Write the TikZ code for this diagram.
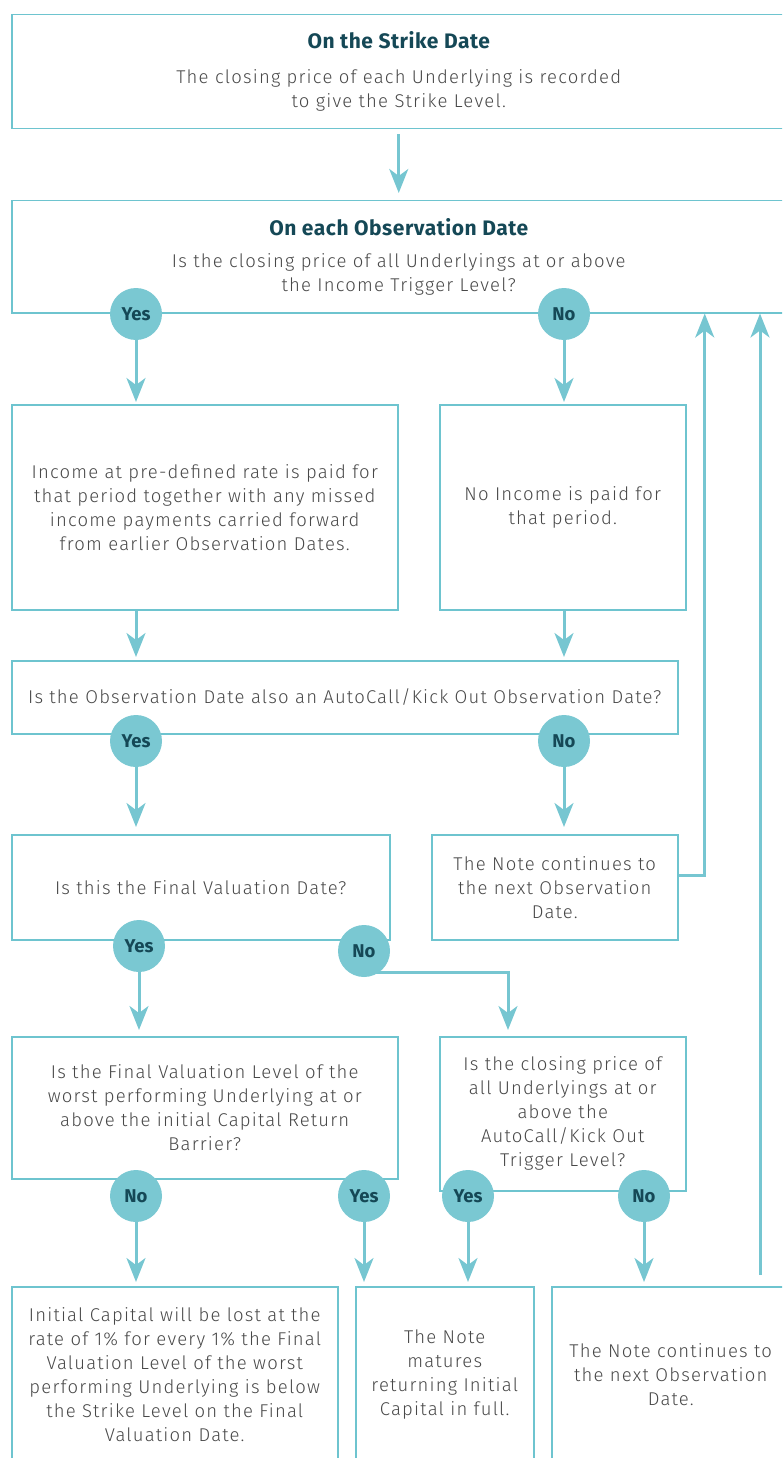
\documentclass[tikz,border=0pt]{standalone}
\usepackage{fontspec}
\setmainfont{Fira Sans}[UprightFont=* Light, BoldFont=* Bold]
\usetikzlibrary{arrows.meta}
\definecolor{edge}{RGB}{110,196,207}
\definecolor{circfill}{RGB}{122,200,210}
\definecolor{linec}{RGB}{118,198,209}
\definecolor{dark}{RGB}{21,72,86}
\definecolor{txt}{RGB}{72,72,72}
\newcommand{\bodyfont}{\fontsize{18.5}{24}\selectfont\addfontfeatures{LetterSpace=6.5}}
\newcommand{\ttlfont}{\color{dark}\bfseries\fontsize{21}{24}\selectfont\addfontfeatures{LetterSpace=2.5}}
\begin{document}
\begin{tikzpicture}[x=1pt,y=-1pt,
  box/.style={draw=edge, line width=1.5pt, rectangle, anchor=north west, align=center, inner sep=0pt,
    font=\bodyfont, text=txt},
  circ/.style={circle, fill=circfill, minimum size=52pt, inner sep=0pt,
    font=\fontsize{18.5}{19}\selectfont\bfseries, text=dark},
  arr/.style={draw=linec, line width=3pt, -{Stealth[length=24pt,width=19pt,inset=7pt]}}]
\clip (0,0) rectangle (782,1458);
% boxes
\node[box, minimum width=774pt, minimum height=114pt] (b1) at (11,14)
  {{\ttlfont On the Strike Date}\\[11pt]
   The closing price of each Underlying is recorded\\ to give the Strike Level.};
\node[box, minimum width=774pt, minimum height=112pt] (b2) at (11,200)
  {{\ttlfont On each Observation Date}\\[8pt]
   Is the closing price of all Underlyings at or above\\ the Income Trigger Level?};
\node[box, minimum width=386pt, minimum height=205pt] (b3) at (11,404)
  {Income at pre-defined rate is paid for\\ that period together with any missed\\ income payments carried forward\\ from earlier Observation Dates.};
\node[box, minimum width=246pt, minimum height=205pt] (b4) at (439,404)
  {No Income is paid for\\ that period.};
\node[box, minimum width=666pt, minimum height=73pt] (b5) at (11,660)
  {Is the Observation Date also an AutoCall/Kick Out Observation Date?};
\node[box, minimum width=378pt, minimum height=105pt] (b6) at (11,834)
  {Is this the Final Valuation Date?};
\node[box, minimum width=246pt, minimum height=105pt] (b7) at (431,834)
  {The Note continues to\\ the next Observation\\ Date.};
\node[box, minimum width=386pt, minimum height=142pt] (b8) at (11,1036)
  {Is the Final Valuation Level of the\\ worst performing Underlying at or\\ above the initial Capital Return\\ Barrier?};
\node[box, minimum width=246pt, minimum height=154pt] (b9) at (439,1036)
  {Is the closing price of\\ all Underlyings at or\\ above the\\ AutoCall/Kick Out\\ Trigger Level?};
\node[box, minimum width=326pt, minimum height=176pt] (b10) at (11,1286)
  {Initial Capital will be lost at the\\ rate of 1\% for every 1\% the Final\\ Valuation Level of the worst\\ performing Underlying is below\\ the Strike Level on the Final\\ Valuation Date.};
\node[box, minimum width=178pt, minimum height=176pt] (b11) at (355,1286)
  {The Note\\ matures\\ returning Initial\\ Capital in full.};
\node[box, minimum width=238pt, minimum height=176pt] (b12) at (551,1286)
  {The Note continues to\\ the next Observation\\ Date.};
\coordinate (c1) at (760,1275);
\coordinate (n3o) at (364,972);
% connectors drawn before circles
\draw[arr] ([yshift=-5pt]b1.south) -- ([yshift=7pt]b2.north);
\draw[arr] ([yshift=12pt]b7.east) -| ([xshift=306pt]b2.south);
\draw[arr] (c1) -- (c1 |- b2.south);
\draw[arr] (n3o) -| ([xshift=69pt,yshift=6pt]b9.north west);
% circles
\node[circ] (y1) at (136,314) {Yes};
\node[circ] (n1) at (564,314) {No};
\node[circ] (y2) at (136,741) {Yes};
\node[circ] (n2) at (564,741) {No};
\node[circ] (y3) at (139,946) {Yes};
\node[circ] (n3) at (364,951) {No};
\node[circ] (n4) at (136,1196) {No};
\node[circ] (y4) at (364,1196) {Yes};
\node[circ] (y5) at (468,1196) {Yes};
\node[circ] (n5) at (644,1196) {No};
\draw[arr, shorten >=2pt] (y1.south) -- (y1.south |- b3.north);
\draw[arr, shorten >=2pt] (n1.south) -- (n1.south |- b4.north);
\draw[arr, shorten >=3pt] (y2 |- b3.south) -- (y2 |- b5.north);
\draw[arr, shorten >=3pt] (n2 |- b4.south) -- (n2 |- b5.north);
\draw[arr, shorten >=7pt] (y2.south) -- (y2.south |- b6.north);
\draw[arr, shorten >=7pt] (n2.south) -- (n2.south |- b7.north);
\draw[arr, shorten >=6pt] (y3.south) -- (y3.south |- b8.north);
\draw[arr, shorten >=4pt] (n4.south) -- (n4.south |- b10.north);
\draw[arr, shorten >=4pt] (y4.south) -- (y4.south |- b11.north);
\draw[arr, shorten >=4pt] (y5.south) -- (y5.south |- b11.north);
\draw[arr, shorten >=4pt] (n5.south) -- (n5.south |- b12.north);
\end{tikzpicture}
\end{document}
